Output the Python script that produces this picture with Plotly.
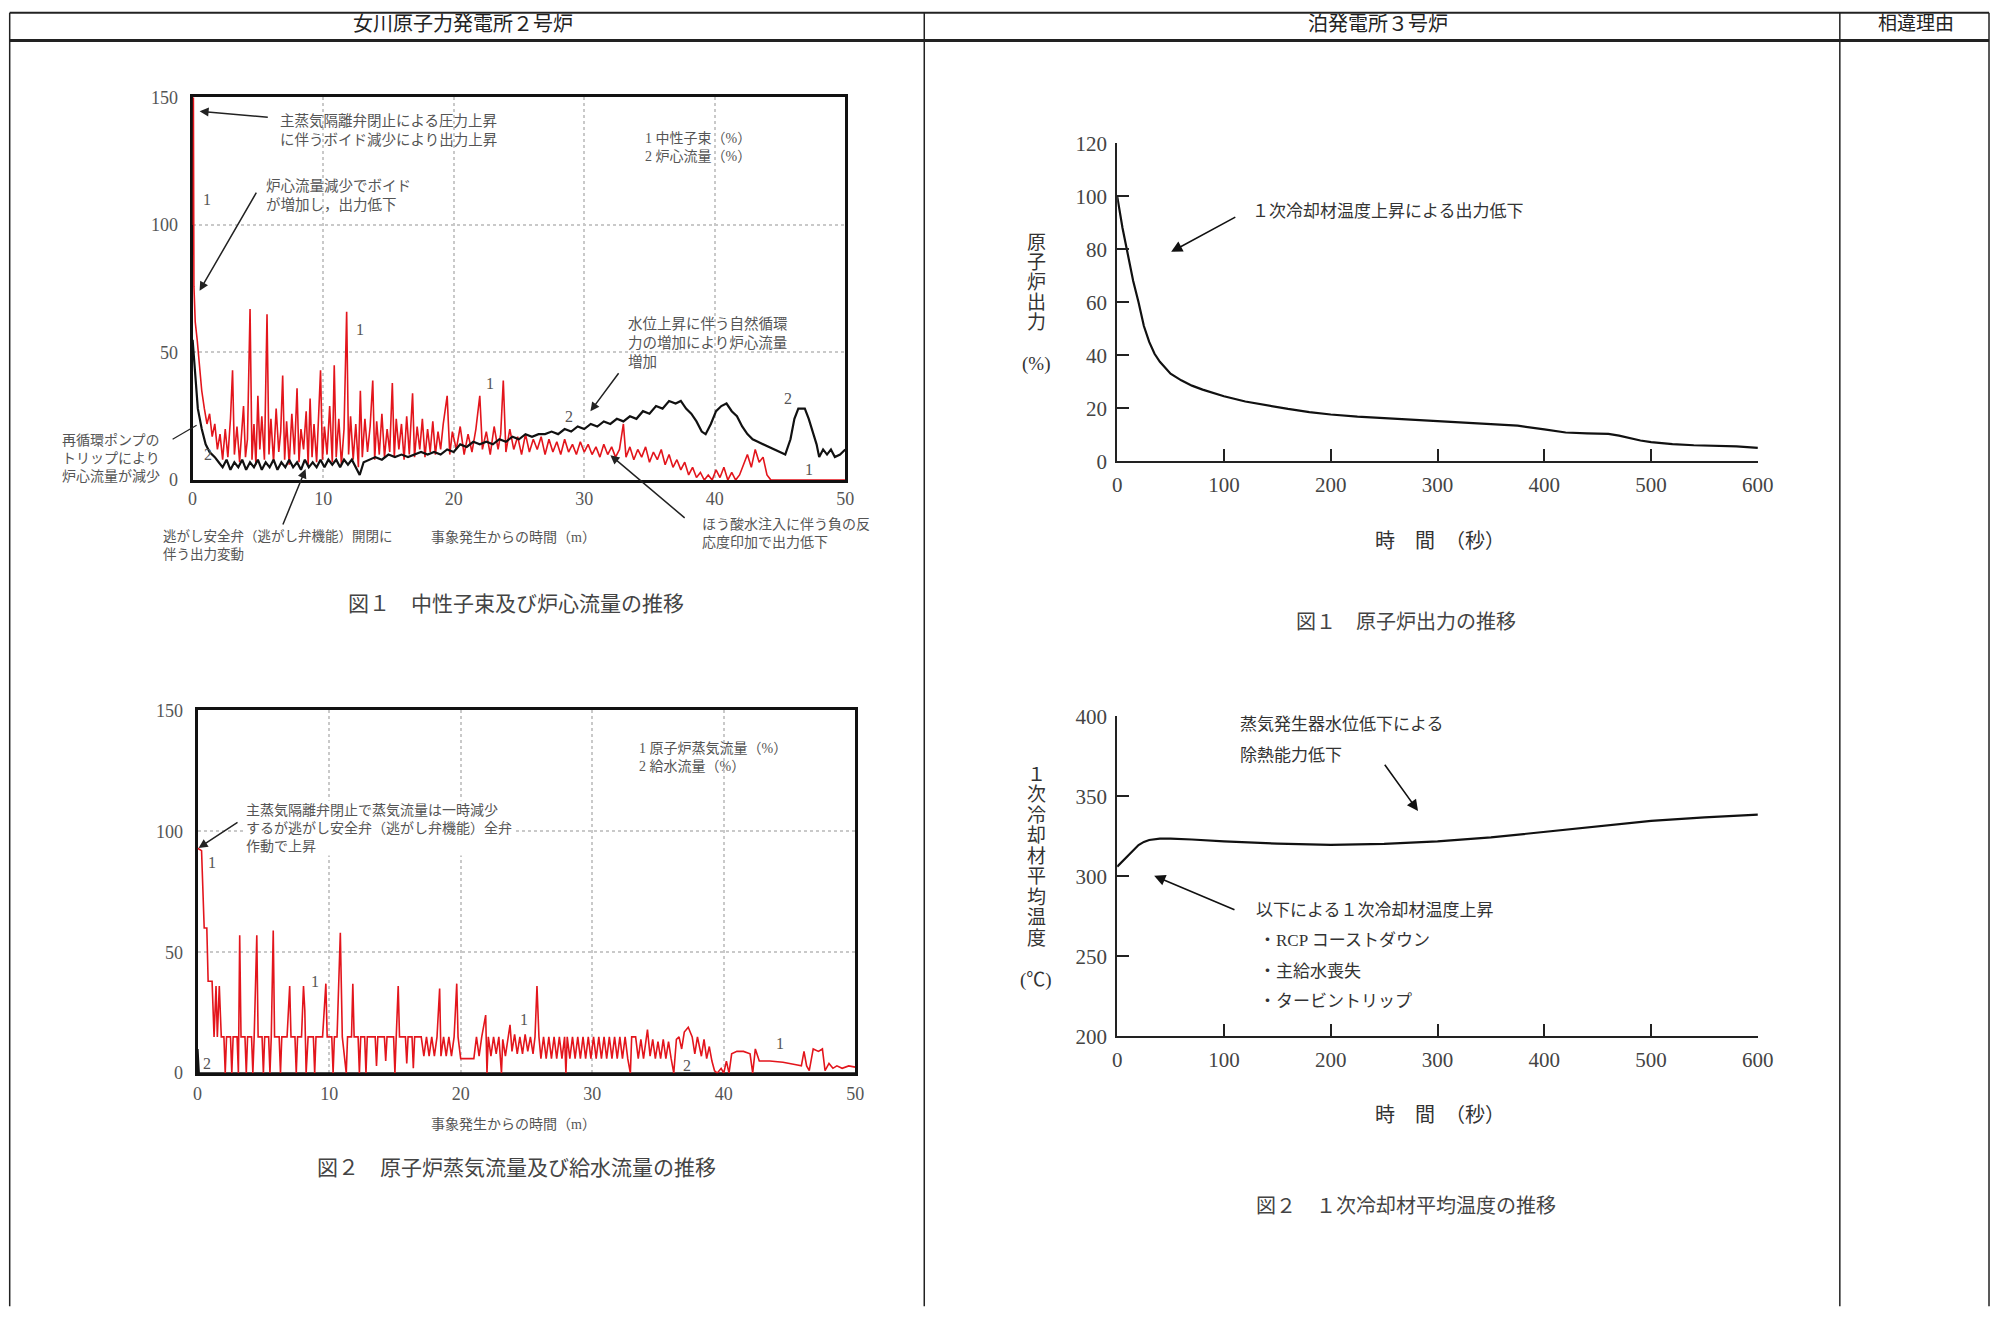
import plotly.graph_objects as go

W, H = 2006, 1319
FONT = "Liberation Serif, Noto Sans CJK JP, sans-serif"

# ---- 女川 図1 : 1 中性子束(%) / 2 炉心流量(%)   time [min]
flux_pts = [
    (0, 100), (0.02, 150), (0.06, 150), (0.1, 76), (0.2, 62), (0.35, 55), (0.5, 45),
    (0.7, 35), (0.9, 28), (1.1, 22), (1.3, 26), (1.5, 17), (1.7, 22), (1.9, 12),
    (2.1, 18), (2.3, 8), (2.5, 20), (2.7, 9), (2.9, 24), (3.06, 43), (3.2, 10),
    (3.4, 21), (3.6, 7), (3.75, 18), (3.9, 29), (4.05, 9), (4.2, 16), (4.4, 67),
    (4.55, 8), (4.7, 22), (4.85, 6), (5.0, 33), (5.15, 12), (5.3, 25), (5.5, 8),
    (5.7, 65), (5.85, 10), (6.0, 24), (6.2, 7), (6.4, 28), (6.6, 11), (6.75, 19),
    (6.9, 41), (7.05, 8), (7.2, 23), (7.4, 6), (7.6, 26), (7.8, 10), (8.0, 36),
    (8.15, 7), (8.3, 20), (8.5, 12), (8.7, 27), (8.85, 6), (9.0, 32), (9.15, 9),
    (9.3, 22), (9.5, 7), (9.65, 25), (9.8, 43), (9.95, 8), (10.1, 21), (10.3, 10),
    (10.5, 29), (10.7, 7), (10.85, 45), (11.0, 9), (11.2, 24), (11.4, 6), (11.6, 20),
    (11.8, 66), (11.95, 10), (12.1, 25), (12.3, 8), (12.5, 22), (12.7, 5), (12.85, 35),
    (13.0, 9), (13.2, 24), (13.4, 11), (13.6, 21), (13.8, 39), (13.95, 8), (14.1, 23),
    (14.3, 10), (14.5, 26), (14.7, 9), (14.9, 20), (15.1, 11), (15.3, 38), (15.45, 9),
    (15.6, 24), (15.8, 12), (16.0, 22), (16.2, 8), (16.4, 25), (16.6, 10), (16.85, 34),
    (17.0, 9), (17.2, 21), (17.4, 12), (17.6, 24), (17.8, 9), (18.0, 20), (18.2, 11),
    (18.4, 23), (18.6, 10), (18.8, 19), (19.0, 12), (19.2, 22), (19.5, 33), (19.7, 10),
    (19.9, 19), (20.2, 12), (20.5, 21), (20.8, 10), (21.1, 18), (21.4, 11), (21.7, 20),
    (22.0, 33), (22.2, 12), (22.5, 19), (22.8, 10), (23.1, 21), (23.4, 12), (23.6, 18),
    (23.8, 39), (24.0, 11), (24.3, 20), (24.6, 12), (24.9, 17), (25.2, 10), (25.5, 18),
    (25.8, 11), (26.1, 16), (26.4, 12), (26.7, 17), (27.0, 10), (27.3, 16), (27.6, 11),
    (27.9, 15), (28.2, 10), (28.5, 16), (28.8, 11), (29.1, 14), (29.4, 10), (29.7, 15),
    (30.0, 11), (30.3, 14), (30.6, 10), (30.9, 13), (31.2, 9), (31.5, 14), (31.8, 10),
    (32.1, 13), (32.4, 9), (32.7, 12), (33.0, 22), (33.2, 9), (33.5, 13), (33.8, 8),
    (34.1, 12), (34.4, 9), (34.7, 13), (35.0, 7), (35.3, 11), (35.6, 8), (35.9, 12),
    (36.2, 6), (36.5, 10), (36.8, 5), (37.1, 8), (37.4, 4), (37.7, 7), (38.0, 2),
    (38.3, 5), (38.6, 1), (38.9, 3), (39.2, 0), (39.5, 2), (39.8, 0), (40.1, 4),
    (40.4, 1), (40.7, 5), (41.0, 0), (41.3, 3), (41.6, 0), (41.9, 2), (42.2, 6),
    (42.5, 10), (42.8, 5), (43.1, 12), (43.4, 7), (43.7, 9), (44.0, 2), (44.3, 0),
    (50, 0),
]
core_pts = [
    (0, 55), (0.2, 40), (0.4, 28), (0.7, 20), (1.0, 14), (1.3, 11), (1.7, 9), (2.0, 7),
    (2.3, 5), (2.6, 8), (2.9, 4), (3.2, 7), (3.5, 5), (3.8, 8), (4.1, 4), (4.4, 7),
    (4.7, 5), (5.0, 8), (5.3, 4), (5.6, 7), (5.9, 5), (6.2, 8), (6.5, 4), (6.8, 7),
    (7.1, 5), (7.4, 8), (7.7, 5), (8.0, 7), (8.3, 4), (8.6, 8), (8.9, 5), (9.2, 7),
    (9.5, 5), (9.8, 8), (10.1, 5), (10.4, 8), (10.7, 6), (11.0, 8), (11.3, 5), (11.6, 8),
    (11.9, 6), (12.2, 8), (12.5, 5), (12.8, 2), (13.1, 7), (13.5, 8), (14.0, 9), (14.5, 8),
    (15.0, 10), (15.5, 9), (16.0, 10), (16.5, 9), (17.0, 10), (17.5, 11), (18.0, 10),
    (18.5, 11), (19.0, 10), (19.5, 12), (20.0, 11), (20.5, 14), (21.0, 13), (21.5, 15),
    (22.0, 14), (22.5, 15), (23.0, 14), (23.5, 16), (24.0, 15), (24.5, 17), (25.0, 16),
    (25.5, 18), (26.0, 17), (26.5, 18), (27.0, 18), (27.5, 19), (28.0, 18), (28.5, 20),
    (29.0, 19), (29.5, 21), (30.0, 20), (30.5, 22), (31.0, 21), (31.5, 23), (32.0, 22),
    (32.5, 24), (33.0, 23), (33.5, 25), (34.0, 24), (34.5, 27), (35.0, 26), (35.5, 29),
    (36.0, 28), (36.5, 31), (37.0, 30), (37.4, 31), (37.8, 28), (38.2, 26), (38.6, 23),
    (39.0, 19), (39.3, 18), (39.7, 22), (40.1, 27), (40.5, 29), (40.9, 30), (41.3, 27),
    (41.7, 25), (42.1, 21), (42.5, 18), (42.9, 16), (43.3, 15), (43.7, 14), (44.1, 13),
    (44.5, 12), (45.0, 11), (45.4, 10), (45.8, 16), (46.1, 24), (46.4, 28), (46.9, 28),
    (47.2, 24), (47.5, 19), (47.8, 14), (48.0, 9), (48.3, 12), (48.6, 10), (48.9, 12),
    (49.2, 9), (49.6, 10), (50.0, 12),
]

# ---- 女川 図2 : 1 原子炉蒸気流量(%) / 2 給水流量(%)
steam_pts = [
    (0, 93), (0.3, 92), (0.5, 60), (0.7, 60), (0.8, 38), (1.1, 38), (1.25, 15), (1.4, 36),
    (1.5, 15), (1.65, 36), (1.8, 15), (2.0, 15), (2.1, 0), (2.2, 15), (2.5, 15), (2.6, 0),
    (2.7, 15), (3.0, 15), (3.1, 0), (3.2, 57), (3.3, 15), (3.6, 15), (3.7, 0), (3.8, 15),
    (4.1, 15), (4.2, 0), (4.3, 15), (4.5, 57), (4.6, 15), (4.9, 15), (5.0, 0), (5.1, 15),
    (5.4, 15), (5.5, 0), (5.6, 15), (5.75, 59), (5.85, 15), (6.2, 15), (6.3, 0), (6.4, 15),
    (6.8, 15), (7.0, 36), (7.1, 15), (7.4, 15), (7.5, 0), (7.6, 15), (7.9, 15), (8.05, 36),
    (8.15, 26), (8.25, 0), (8.4, 15), (8.8, 15), (8.9, 0), (9.0, 15), (9.5, 15), (9.75, 37),
    (9.85, 15), (10.2, 15), (10.3, 0), (10.4, 15), (10.6, 15), (10.7, 30), (10.85, 58),
    (11.0, 15), (11.3, 0), (11.4, 15), (11.7, 15), (11.8, 37), (11.9, 15), (12.2, 15),
    (12.3, 0), (12.4, 15), (12.7, 15), (12.8, 0), (12.9, 15), (13.5, 15), (13.6, 3),
    (13.7, 15), (14.2, 15), (14.3, 5), (14.4, 15), (14.9, 15), (15.0, 0), (15.1, 15),
    (15.25, 36), (15.35, 15), (15.8, 15), (15.9, 4), (16.0, 15), (16.3, 15), (16.4, 2),
    (16.5, 15), (17.0, 15), (17.2, 7), (17.4, 15), (17.6, 7), (17.8, 15), (18.0, 7),
    (18.2, 15), (18.4, 35), (18.5, 7), (18.7, 15), (18.9, 7), (19.1, 15), (19.3, 7),
    (19.5, 15), (19.7, 37), (19.8, 15), (20.0, 6), (20.3, 6), (21.0, 6), (21.2, 15),
    (21.4, 7), (21.6, 15), (21.9, 24), (22.0, 0), (22.1, 15), (22.3, 7), (22.5, 15),
    (22.7, 8), (22.9, 15), (23.1, 0), (23.2, 14), (23.4, 7), (23.6, 15), (23.75, 20),
    (23.9, 9), (24.1, 16), (24.3, 8), (24.5, 15), (24.7, 8), (24.9, 16), (25.1, 9),
    (25.3, 15), (25.5, 8), (25.65, 15), (25.8, 36), (25.95, 15), (26.1, 6), (26.3, 15),
    (26.5, 6), (26.7, 15), (26.9, 6), (27.1, 15), (27.3, 6), (27.5, 15), (27.7, 6),
    (27.9, 15), (28.0, 0), (28.1, 15), (28.3, 6), (28.5, 15), (28.7, 6), (28.9, 15),
    (29.1, 6), (29.3, 15), (29.5, 6), (29.7, 15), (29.9, 6), (30.1, 15), (30.3, 6),
    (30.5, 15), (30.7, 6), (30.9, 15), (31.1, 6), (31.3, 15), (31.5, 6), (31.7, 15),
    (31.9, 6), (32.1, 15), (32.3, 6), (32.5, 15), (32.7, 6), (32.9, 0), (33.0, 15),
    (33.3, 15), (33.5, 6), (33.7, 14), (33.9, 6), (34.2, 18), (34.4, 7), (34.6, 14),
    (34.8, 6), (35.0, 13), (35.2, 6), (35.4, 14), (35.6, 6), (35.8, 13), (36.0, 6),
    (36.2, 0), (36.4, 14), (36.6, 15), (36.8, 10), (37.0, 17), (37.3, 19), (37.6, 15),
    (37.8, 8), (38.0, 15), (38.3, 7), (38.5, 14), (38.7, 6), (38.9, 11), (39.1, 5),
    (39.3, 1), (39.5, 0), (39.8, 2), (40.0, 0), (40.2, 5), (40.4, 0), (40.6, 8), (41.0, 9),
    (41.5, 9), (42.0, 8), (42.2, 0), (42.4, 10), (42.7, 5), (43.5, 5), (44.5, 4.5),
    (45.5, 3.5), (45.9, 3), (46.1, 9), (46.3, 3), (46.5, 1), (46.8, 10), (47.2, 9),
    (47.5, 10), (47.7, 1), (48.0, 4), (48.3, 2), (48.6, 3), (49.0, 2), (49.5, 3), (50, 2.5),
]
feed_pts = [(0, 10), (0.1, 0), (50, 0)]

# ---- 泊 図1 : 原子炉出力(%)  time [s]
power_t = [0, 5, 10, 15, 20, 25, 30, 35, 40, 50, 60, 70, 80, 90, 100, 120, 140, 160, 180,
           200, 225, 250, 275, 300, 325, 350, 375, 400, 420, 440, 460, 470, 480, 490, 500,
           520, 540, 560, 580, 600]
power_v = [100, 88, 78, 68, 60, 51, 45, 40.5, 37.5, 33, 30.5, 28.5, 27, 25.7, 24.5, 22.5,
           21, 19.7, 18.5, 17.6, 16.8, 16.2, 15.8, 15.2, 14.6, 14, 13.4, 12, 10.8, 10.5,
           10.3, 9.6, 8.6, 7.8, 7.2, 6.4, 6, 5.8, 5.6, 5]

# ---- 泊 図2 : 1次冷却材平均温度(℃)
temp_t = [0, 5, 10, 15, 20, 25, 30, 40, 50, 70, 100, 150, 200, 250, 300, 350, 400, 450,
          500, 550, 600]
temp_v = [306, 309.5, 313, 316.5, 319.5, 321.5, 322.7, 323.5, 323.6, 323, 321.8, 320.4,
          319.6, 320.2, 321.8, 324.3, 327.8, 331.5, 334.6, 336.8, 338.6]

min_ticks = [0, 10, 20, 30, 40, 50]
pct_ticks = [0, 50, 100, 150]
sec_ticks = [0, 100, 200, 300, 400, 500, 600]
power_ticks = [0, 20, 40, 60, 80, 100, 120]
temp_ticks = [200, 250, 300, 350, 400]

# positions below are pixels of the target picture; the photographed page comes
# back ~1% smaller and slightly shifted, so map them back to page pixels
SX, OX = 0.990, 4.3
SY, OY = 0.985, 8.4


def fx(x):
    return min(max((x - OX) / SX / W, 0.0005), 0.9995)


def fy(y):
    return min(max(1 - (y - OY) / SY / H, 0.0005), 0.9995)


def dom_x(a, b):
    return [fx(a), fx(b)]


def dom_y(top, bottom):
    return [fy(bottom), fy(top)]


fig = go.Figure()


def add_line(pts_x, pts_y, color, width, ax):
    fig.add_trace(go.Scatter(
        x=list(pts_x), y=list(pts_y), mode='lines', xaxis='x' + ax, yaxis='y' + ax,
        line=dict(color=color, width=width), showlegend=False, hoverinfo='skip'
    ))


RED = '#e3151c'
add_line(*zip(*flux_pts), RED, 1.6, '')
add_line(*zip(*core_pts), '#111111', 2.2, '')
add_line(*zip(*feed_pts), '#111111', 2, '2')
add_line(*zip(*steam_pts), RED, 1.6, '2')
add_line(power_t, power_v, '#111111', 2.2, '3')
add_line(temp_t, temp_v, '#111111', 2.2, '4')

left_axis = dict(
    showline=True, linewidth=3, linecolor='#111', mirror=True,
    showgrid=True, gridcolor='#c9c9c9', griddash='dot', gridwidth=1.5,
    zeroline=False, ticks='', layer='below traces',
    tickfont=dict(family=FONT, size=18, color='#555'),
)
right_axis = dict(
    showline=True, linewidth=2, linecolor='#222', mirror=False, showgrid=False,
    zeroline=False, ticks='inside', ticklen=12, tickwidth=2, tickcolor='#222',
    ticklabelstandoff=4, tickfont=dict(family=FONT, size=21, color='#444'),
)

fig.update_layout(
    width=W, height=H, margin=dict(l=0, r=0, t=0, b=0),
    paper_bgcolor='white', plot_bgcolor='white',
    xaxis=dict(left_axis, domain=dom_x(192, 845), range=[0, 50], tickvals=min_ticks,
               anchor='y', ticklabelstandoff=0),
    yaxis=dict(left_axis, domain=dom_y(94, 478), range=[0, 150], tickvals=pct_ticks,
               anchor='x', ticklabelstandoff=8),
    xaxis2=dict(left_axis, domain=dom_x(197, 855), range=[0, 50], tickvals=min_ticks,
                anchor='y2', ticklabelstandoff=2),
    yaxis2=dict(left_axis, domain=dom_y(709, 1073), range=[0, 150], tickvals=pct_ticks,
                anchor='x2', ticklabelstandoff=8),
    xaxis3=dict(right_axis, domain=dom_x(1117, 1758), range=[0, 600], tickvals=sec_ticks, anchor='y3'),
    yaxis3=dict(right_axis, domain=dom_y(140, 459), range=[0, 120], tickvals=power_ticks, anchor='x3'),
    xaxis4=dict(right_axis, domain=dom_x(1117, 1758), range=[0, 600], tickvals=sec_ticks, anchor='y4'),
    yaxis4=dict(right_axis, domain=dom_y(715, 1036), range=[200, 400], tickvals=temp_ticks, anchor='x4'),
)

notes = []
shapes = []


def note(x, y, text, size=14, color='#555', anchor='left', **kw):
    notes.append(dict(
        x=fx(x), y=fy(y), xref='paper', yref='paper', text=text, showarrow=False,
        xanchor=anchor, yanchor='middle', align=anchor,
        font=dict(family=FONT, size=size, color=color), **kw
    ))


def arrow(head, tail, color='#222', width=1.5, size=1.2):
    notes.append(dict(
        x=fx(head[0]), y=fy(head[1]), xref='paper', yref='paper',
        ax=(tail[0] - head[0]) / SX, ay=(tail[1] - head[1]) / SY, text='', showarrow=True,
        arrowhead=2, arrowsize=size, arrowwidth=width, arrowcolor=color
    ))


def seg(x0, y0, x1, y1, width=1.5, color='#222'):
    shapes.append(dict(type='line', xref='paper', yref='paper',
                       x0=fx(x0), y0=fy(y0), x1=fx(x1), y1=fy(y1),
                       line=dict(color=color, width=width)))


def curve_label(t, v, text, ax=''):
    notes.append(dict(x=t, y=v, xref='x' + ax, yref='y' + ax, text=text, showarrow=False,
                      font=dict(family=FONT, size=16, color='#555')))


# table frame
seg(9, 3, 2000, 3, 2)
seg(9, 37, 2000, 37, 3)
for xx in (9, 924, 1840, 2000):
    seg(xx, 3, xx, H + 20, 1.5)
note(463, 20, '女川原子力発電所２号炉', 20, '#222', 'center')
note(1378, 20, '泊発電所３号炉', 20, '#222', 'center')
note(1916, 20, '相違理由', 19, '#222', 'center')

# 女川 図1
note(277, 127, '主蒸気隔離弁閉止による圧力上昇<br>に伴うボイド減少により出力上昇', 14.5)
arrow((199, 108), (268, 114))
note(263, 192, '炉心流量減少でボイド<br>が増加し，出力低下', 14.5)
arrow((199, 288), (256, 190))
note(643, 144, '1 中性子束（%）<br>2 炉心流量（%）', 14)
note(626, 340, '水位上昇に伴う自然循環<br>力の増加により炉心流量<br>増加', 14.5)
arrow((590, 409), (619, 370))
note(59, 456, '再循環ポンプの<br>トリップにより<br>炉心流量が減少', 14)
seg(172, 437, 196, 423, 1.2)
arrow((305, 467), (282, 523))
note(160, 544, '逃がし安全弁（逃がし弁機能）開閉に<br>伴う出力変動', 13.5)
note(513, 536, '事象発生からの時間（m）', 14, '#555', 'center')
arrow((610, 453), (685, 516))
note(700, 532, 'ほう酸水注入に伴う負の反<br>応度印加で出力低下', 14)
note(516, 602, '図１　中性子束及び炉心流量の推移', 21, '#444', 'center')
curve_label(1.1, 110, '1')
curve_label(1.2, 10, '2')
curve_label(12.8, 59, '1')
curve_label(22.8, 38, '1')
curve_label(28.8, 25, '2')
curve_label(45.6, 32, '2')
curve_label(47.2, 4.3, '1')

# 女川 図2
note(243, 827, '主蒸気隔離弁閉止で蒸気流量は一時減少<br>するが逃がし安全弁（逃がし弁機能）全弁<br>作動で上昇',
     14, bgcolor='white')
arrow((198, 847), (238, 821))
note(637, 756, '1 原子炉蒸気流量（%）<br>2 給水流量（%）', 14)
note(513, 1125, '事象発生からの時間（m）', 14, '#555', 'center')
note(516, 1168, '図２　原子炉蒸気流量及び給水流量の推移', 21, '#444', 'center')
curve_label(1.1, 87, '1', '2')
curve_label(0.7, 4, '2', '2')
curve_label(8.9, 38, '1', '2')
curve_label(24.8, 22, '1', '2')
curve_label(37.2, 3.3, '2', '2')
curve_label(44.3, 12.4, '1', '2')

# 泊 図1
note(1250, 209, '１次冷却材温度上昇による出力低下', 17, '#333')
arrow((1171, 249), (1236, 214), '#111', 1.6, 1.4)
for i, ch in enumerate('原子炉出力'):
    note(1036, 240 + 20 * i, ch, 19, '#333', 'center')
note(1036, 362, '(%)', 19, '#333', 'center')
note(1440, 539, '時　間　（秒）', 20, '#333', 'center')
note(1406, 620, '図１　原子炉出力の推移', 20, '#444', 'center')

# 泊 図2
note(1238, 723, '蒸気発生器水位低下による', 17, '#333')
note(1238, 754, '除熱能力低下', 17, '#333')
arrow((1418, 810), (1384, 763), '#111', 1.6, 1.4)
arrow((1154, 875), (1235, 909), '#111', 1.6, 1.4)
note(1254, 910, '以下による１次冷却材温度上昇', 17, '#333')
note(1257, 940, '・RCP コーストダウン', 17, '#333')
note(1257, 971, '・主給水喪失', 17, '#333')
note(1257, 1001, '・タービントリップ', 17, '#333')
for i, ch in enumerate('１次冷却材平均温度'):
    note(1036, 773 + 20.6 * i, ch, 19, '#333', 'center')
note(1036, 980, '(℃)', 19, '#333', 'center')
note(1440, 1115, '時　間　（秒）', 20, '#333', 'center')
note(1406, 1206, '図２　１次冷却材平均温度の推移', 20, '#444', 'center')

fig.update_layout(annotations=notes, shapes=shapes)
# drop the default 8px body margin so the figure fills the window exactly
fig.write_html(
    "out.html", config={'displayModeBar': False},
    post_script="document.body.style.margin='0';document.body.style.overflow='hidden';",
)
